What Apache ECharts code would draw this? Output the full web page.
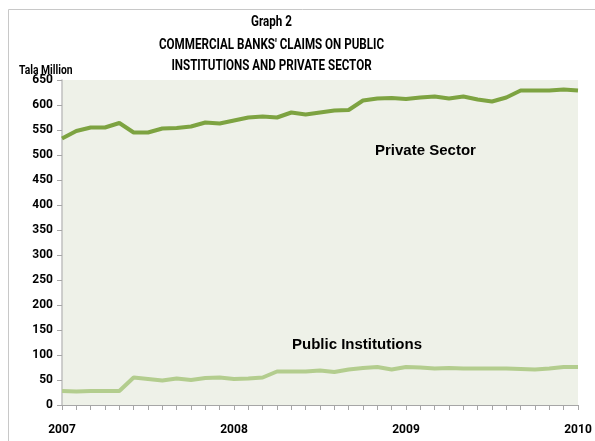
<!DOCTYPE html>
<html>
<head>
<meta charset="utf-8">
<script src="https://cdn.jsdelivr.net/npm/echarts@6/dist/echarts.min.js"></script>
<style>
  html, body { margin: 0; padding: 0; background: #ffffff; }
  #chart { width: 595px; height: 441px; }
</style>
</head>
<body>
<div id="chart"></div>
<script>
// Monthly observations, January 2007 to January 2010 (Tala million)
const months = [
  'Jan-07','Feb-07','Mar-07','Apr-07','May-07','Jun-07','Jul-07','Aug-07','Sep-07','Oct-07','Nov-07','Dec-07',
  'Jan-08','Feb-08','Mar-08','Apr-08','May-08','Jun-08','Jul-08','Aug-08','Sep-08','Oct-08','Nov-08','Dec-08',
  'Jan-09','Feb-09','Mar-09','Apr-09','May-09','Jun-09','Jul-09','Aug-09','Sep-09','Oct-09','Nov-09','Dec-09',
  'Jan-10'
];
const yearLabels = { 0: '2007', 12: '2008', 24: '2009', 36: '2010' };

const privateSector = [
  533, 548, 555, 555, 564, 545, 545, 553, 554, 557, 565, 563,
  569, 575, 577, 575, 585, 581, 585, 589, 590, 609, 613, 614,
  612, 615, 617, 613, 617, 611, 607, 615, 629, 629, 629, 631,
  629
];
const publicInstitutions = [
  28, 27, 28, 28, 28, 55, 52, 49, 53, 50, 54, 55,
  52, 53, 55, 67, 67, 67, 69, 66, 71, 74, 76, 71,
  76, 75, 73, 74, 73, 73, 73, 73, 72, 71, 73, 76,
  76
];

const titleLines = ['Graph 2', "COMMERCIAL BANKS' CLAIMS ON PUBLIC", 'INSTITUTIONS AND PRIVATE SECTOR'];

const yMin = 0, yMax = 650, yStep = 50;

const chart = echarts.init(document.getElementById('chart'));
const headFont = '"Roboto", "Liberation Sans", sans-serif';
const axisFont = '"Roboto", "Liberation Sans", sans-serif';

// condensed bold heading lines
const titleGraphics = titleLines.map((t, i) => ({
  type: 'text',
  x: 271.5,
  y: [22, 45, 66][i],
  scaleX: 0.83,
  style: { text: t, font: 'bold 14px ' + headFont, fill: '#000', align: 'center', verticalAlign: 'middle' },
  silent: true
}));

chart.setOption({
  animation: false,
  backgroundColor: '#ffffff',
  grid: { left: 62, right: 17, top: 80, bottom: 36, show: true, backgroundColor: '#eef1e8', borderWidth: 0 },
  graphic: [
    { type: 'rect', shape: { x: 8.5, y: 9.5, width: 600, height: 440 }, style: { fill: 'none', stroke: '#c8c8c8', lineWidth: 1 }, silent: true },
    ...titleGraphics,
    { type: 'text', x: 19, y: 71, scaleX: 0.86, style: { text: 'Tala Million', font: 'bold 12px ' + axisFont, fill: '#000', verticalAlign: 'middle' } },
    { type: 'text', left: 375, top: 143, style: { text: 'Private Sector', font: 'bold 15px "Liberation Sans", Arial, sans-serif', fill: '#000' } },
    { type: 'text', left: 292, top: 337, style: { text: 'Public Institutions', font: 'bold 15px "Liberation Sans", Arial, sans-serif', fill: '#000' } }
  ],
  xAxis: {
    type: 'category',
    data: months,
    boundaryGap: false,
    axisLine: { show: true, lineStyle: { color: '#a6a6a6', width: 1 } },
    axisTick: { show: true, interval: 0, length: 5, lineStyle: { color: '#a6a6a6' } },
    axisLabel: {
      interval: 0,
      margin: 19,
      color: '#000',
      fontWeight: 'bold',
      fontSize: 12,
      fontFamily: axisFont,
      formatter: (v, i) => yearLabels[i] || ''
    },
    splitLine: { show: false }
  },
  yAxis: {
    type: 'value',
    min: yMin,
    max: yMax,
    interval: yStep,
    axisLine: { show: true, lineStyle: { color: '#bfbfbf', width: 1.5 } },
    axisTick: { show: true, length: 5, lineStyle: { color: '#a6a6a6' } },
    axisLabel: { color: '#000', fontWeight: 'bold', fontSize: 12, fontFamily: axisFont, margin: 9 },
    splitLine: { show: false }
  },
  series: [
    {
      name: 'Private Sector',
      type: 'line',
      data: privateSector,
      symbol: 'none',
      lineStyle: { color: '#7da341', width: 4 },
      z: 3
    },
    {
      name: 'Public Institutions',
      type: 'line',
      data: publicInstitutions,
      symbol: 'none',
      lineStyle: { color: '#b3cd8e', width: 4 },
      z: 2
    }
  ]
});
</script>
</body>
</html>
